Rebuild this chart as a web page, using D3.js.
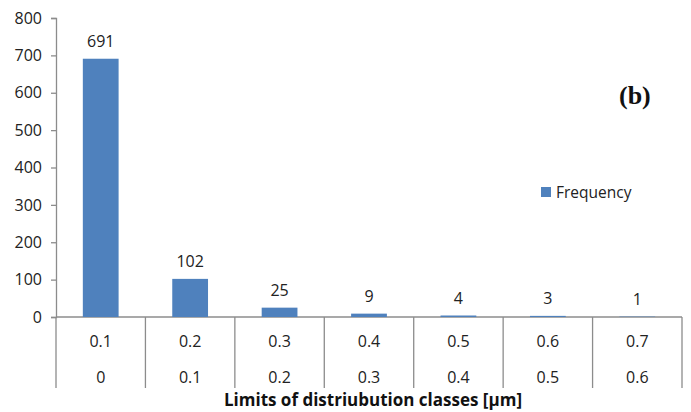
<!DOCTYPE html>
<html><head><meta charset="utf-8">
<script src="https://cdn.jsdelivr.net/npm/d3@7"></script>
<style>body{margin:0;background:#fff}svg{display:block}</style>
</head><body>
<script>
const upperLimits = ["0.1","0.2","0.3","0.4","0.5","0.6","0.7"];
const lowerLimits = ["0","0.1","0.2","0.3","0.4","0.5","0.6"];
const frequency = [691,102,25,9,4,3,1];
const yTicks = [0,100,200,300,400,500,600,700,800];
const seriesName = "Frequency";
const panelLabel = "(b)";
const xTitle = "Limits of distriubution classes [µm]";

const W=691,H=412;
const m={left:56,right:9,top:18,bottom:95};
const svg=d3.select("body").append("svg").attr("width",W).attr("height",H);
const font="'Open Sans', 'Liberation Sans', sans-serif";
const fs=16;
const axisCol="#8c8c8c";
const x=d3.scaleBand().domain(d3.range(frequency.length)).range([m.left,W-m.right]).paddingInner(0.6).paddingOuter(0.3);
const xb=d3.scaleBand().domain(d3.range(frequency.length)).range([m.left,W-m.right]);
const y=d3.scaleLinear().domain([0,800]).range([H-m.bottom,m.top]);
const y0=y(0);

// y axis
const ya=svg.append("g").attr("transform",`translate(${m.left},0)`)
  .call(d3.axisLeft(y).tickValues(yTicks).tickSize(5).tickPadding(9));
ya.select(".domain").attr("stroke",axisCol).attr("stroke-width",1.3);
ya.selectAll(".tick line").attr("stroke",axisCol).attr("stroke-width",1.3);
ya.selectAll("text").attr("font-family",font).attr("font-size",fs).attr("fill","#222");

// x axis line
svg.append("line").attr("x1",m.left).attr("x2",W-m.right).attr("y1",y0).attr("y2",y0).attr("stroke",axisCol).attr("stroke-width",1.3);
// dividers
const divs=d3.range(frequency.length+1).map(i=>i<frequency.length?xb(i):xb(frequency.length-1)+xb.bandwidth());
svg.selectAll("line.div").data(divs).join("line").attr("class","div")
  .attr("x1",d=>d).attr("x2",d=>d).attr("y1",y0).attr("y2",y0+71)
  .attr("stroke",axisCol).attr("stroke-width",1.3);

// bars
svg.selectAll("rect.bar").data(frequency).join("rect").attr("class","bar")
  .attr("x",(d,i)=>x(i)).attr("width",x.bandwidth())
  .attr("y",d=>y(d)).attr("height",d=>y0-y(d)).attr("fill","#4F81BD");

// value labels
svg.selectAll("text.val").data(frequency).join("text").attr("class","val")
  .attr("x",(d,i)=>x(i)+x.bandwidth()/2).attr("y",d=>y(d)-12)
  .attr("text-anchor","middle").attr("font-family",font).attr("font-size",fs).attr("fill","#222")
  .text(d=>d);

// category labels
svg.selectAll("text.up").data(upperLimits).join("text").attr("class","up")
  .attr("x",(d,i)=>xb(i)+xb.bandwidth()/2).attr("y",y0+30)
  .attr("text-anchor","middle").attr("font-family",font).attr("font-size",fs).attr("fill","#222").text(d=>d);
svg.selectAll("text.lo").data(lowerLimits).join("text").attr("class","lo")
  .attr("x",(d,i)=>xb(i)+xb.bandwidth()/2).attr("y",y0+66)
  .attr("text-anchor","middle").attr("font-family",font).attr("font-size",fs).attr("fill","#222").text(d=>d);

// x title
svg.append("text").attr("x",373).attr("y",406).attr("text-anchor","middle")
  .attr("font-family",font).attr("font-size",17).attr("font-weight","bold").attr("fill","#111").text(xTitle);

// legend
svg.append("rect").attr("x",541).attr("y",187).attr("width",10).attr("height",10).attr("fill","#4F81BD");
svg.append("text").attr("x",556).attr("y",198).attr("font-family",font).attr("font-size",15.5).attr("fill","#222").text(seriesName);

// panel label
svg.append("text").attr("x",619).attr("y",104).attr("font-family","'Liberation Serif', serif")
  .attr("font-size",26).attr("font-weight","bold").attr("fill","#111").text(panelLabel);
</script>
</body></html>
